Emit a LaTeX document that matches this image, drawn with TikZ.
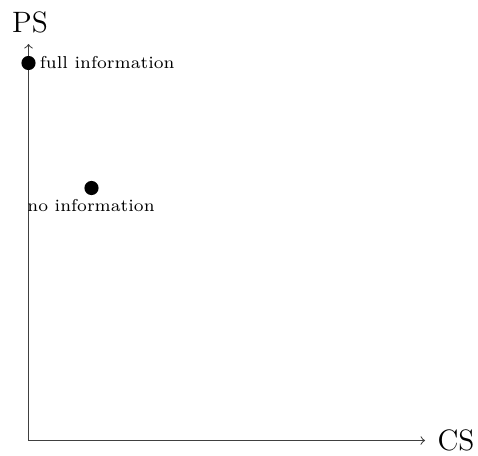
\documentclass[tikz,border=0pt]{standalone}
\usetikzlibrary{arrows}
\begin{document}
\begin{tikzpicture}[x=0.4237pt,y=-0.4237pt,
  axis/.style={draw=black!75, line width=0.45pt, ->},
  dotnode/.style={circle, fill=black, inner sep=0pt, minimum size=6pt},
  smalllabel/.style={font=\fontsize{7.3}{9}\selectfont, inner sep=1pt},
  axislabel/.style={font=\fontsize{12.5}{15}\selectfont, inner sep=0pt}]
\useasboundingbox (0,0) rectangle (478,455);
\coordinate (O) at (28.5,440.5);
\coordinate (Ytop) at (28.5,44);
\coordinate (Xend) at (425,440.5);
\draw[axis] (O) -- (Ytop);
\draw[axis] (O) -- (Xend);
\node[axislabel, anchor=base] (PS) at (30,32) {PS};
\node[axislabel, anchor=base] (CS) at (456,450) {CS};
\node[dotnode] (full) at (28.5,63) {};
\node[smalllabel, anchor=base west] (fulltxt) at (37,68.5) {full information};
\node[dotnode] (none) at (91.5,188) {};
\node[smalllabel, anchor=base] (nonetxt) at (91,211) {no information};
\end{tikzpicture}
\end{document}
